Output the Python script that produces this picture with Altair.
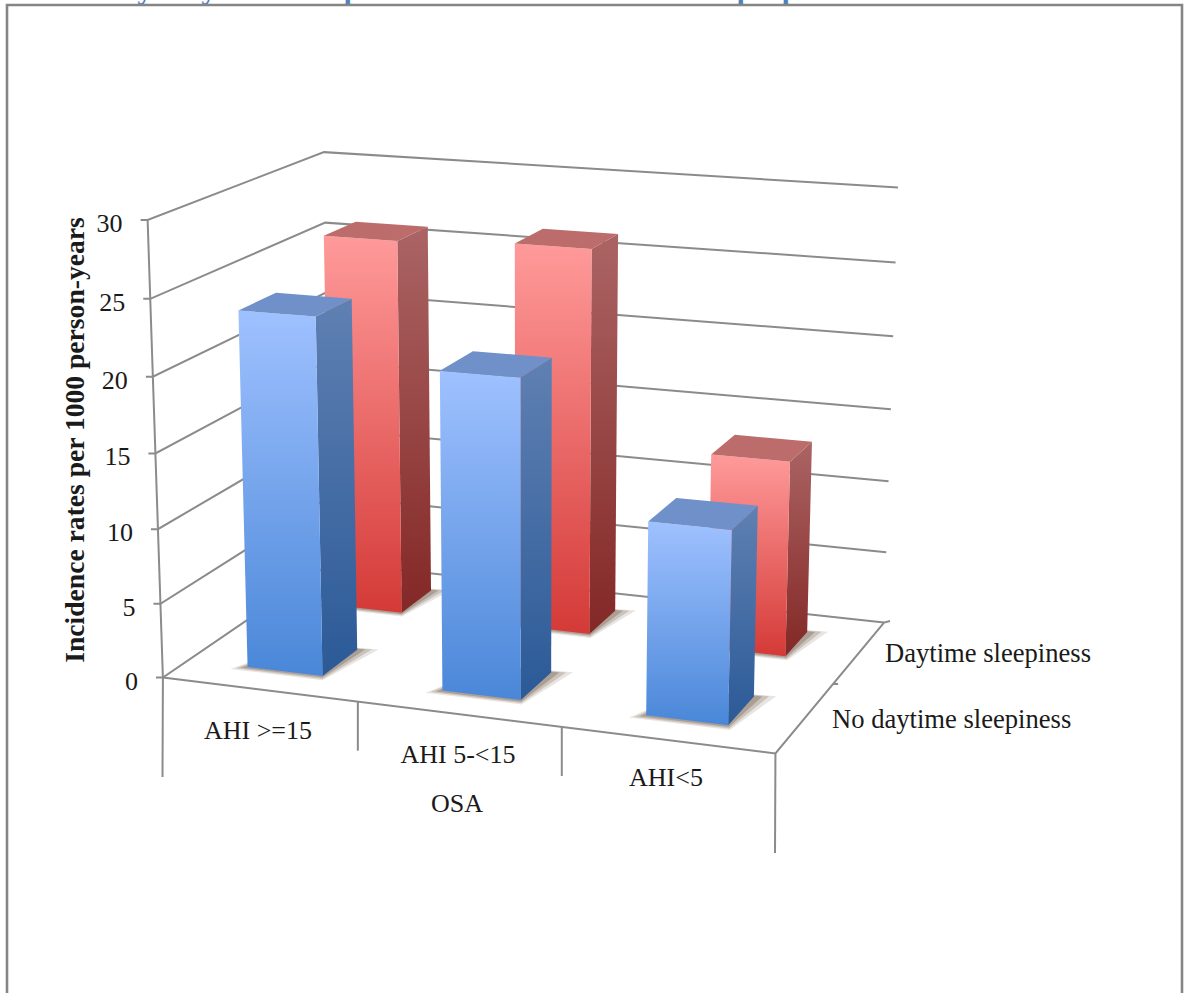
import altair as alt
import numpy as np
import pandas as pd

# Chart content
categories = ["AHI >=15", "AHI 5-<15", "AHI<5"]
series_names = ["No daytime sleepiness", "Daytime sleepiness"]
no_sleepiness = [23.8, 21.0, 12.6]
sleepiness = [26.0, 26.4, 13.3]
value_ticks = [0, 5, 10, 15, 20, 25, 30]
axis_title = "Incidence rates per 1000 person-years"
category_title = "OSA"

W, H = 1184, 993

# Camera calibration: (category, depth, value) -> page position
world_pts = [(0, 0, 0), (0, 0, 15), (0, 0, 30), (1, 0, 0), (2, 0, 0), (3, 0, 0),
             (0, 1, 0), (0, 1, 25), (0, 1, 30), (3, 1, 0), (3, 1, 5), (3, 1, 10),
             (3, 1, 15), (3, 1, 20), (3, 1, 25), (3, 1, 30)]
page_pts = [(163, 677), (156, 452), (148, 220), (357, 703), (562, 728), (775, 753),
            (332, 563), (325, 223), (323, 152), (883, 622), (887, 552), (889, 481),
            (891, 409), (893, 336), (896, 263), (898, 188)]


def fit_camera(world, page):
    rows = []
    for (a, b, c), (u, v) in zip(world, page):
        w = [a, b, c / 30, 1]
        rows.append(w + [0, 0, 0, 0] + [-u * t for t in w])
        rows.append([0, 0, 0, 0] + w + [-v * t for t in w])
    return np.linalg.svd(np.array(rows, float))[2][-1].reshape(3, 4)


CAM = fit_camera(world_pts, page_pts)


def project(cat, depth, value):
    p = CAM @ np.array([cat, depth, value / 30, 1.0])
    return float(p[0] / p[2]), float(p[1] / p[2])


x_scale = alt.Scale(domain=[0, W], nice=False, zero=False)
y_scale = alt.Scale(domain=[H, 0], nice=False, zero=False)
X = alt.X("x:Q", scale=x_scale, axis=None)
Y = alt.Y("y:Q", scale=y_scale, axis=None)


def polygon(points, fill, opacity=1.0):
    df = pd.DataFrame([{"x": a, "y": b, "i": k} for k, (a, b) in enumerate(points + points[:1])])
    return alt.Chart(df).mark_line(fill=fill, strokeWidth=0, strokeOpacity=0, opacity=opacity, interpolate="linear").encode(
        x=X, y=Y, order=alt.Order("i:Q"))


def polyline(points, color="#8b8b8b", width=2.0):
    df = pd.DataFrame([{"x": a, "y": b, "i": k} for k, (a, b) in enumerate(points)])
    return alt.Chart(df).mark_line(stroke=color, strokeWidth=width, interpolate="linear").encode(
        x=X, y=Y, order=alt.Order("i:Q"))


def label(text, x, y, size=26, align="center", weight="normal", angle=0, color="#1a1a1a"):
    df = pd.DataFrame([{"x": x, "y": y, "t": text}])
    return alt.Chart(df).mark_text(font="Liberation Serif", fontSize=size, align=align, baseline="middle",
                                   fontWeight=weight, angle=angle, color=color).encode(x=X, y=Y, text="t:N")


def vgrad(top, bottom):
    return alt.Gradient(gradient="linear", x1=0, y1=0, x2=0, y2=1,
                        stops=[alt.GradientStop(color=top, offset=0), alt.GradientStop(color=bottom, offset=1)])


layers = []

# Clipped heading above the figure, then the frame over it
for glyph, gx in [("y", 145), ("y", 209), ("p", 352), ("p", 745), ("p", 790)]:
    layers.append(label(glyph, gx, -10, size=30, weight="bold", color="#4f81bd"))
layers.append(polyline([(7, H), (7, 5), (1182, 5), (1182, H)], color="#858585", width=2.6))

# Walls and floor
for v in value_ticks:
    fx, fy = project(0, 0, v)
    layers.append(polyline([(fx - 7, fy), (fx, fy), project(0, 1, v), project(3, 1, v)]))
    layers.append(label(str(v), fx - 25, fy + 4, align="right"))
layers.append(polyline([project(0, 0, 30), project(0, 0, 0), (162.5, 777)]))
layers.append(polyline([project(0, 0, 0), project(3, 0, 0), project(3, 1, 0), (890, 621)]))
layers.append(polyline([project(3, 0, 0), (775, 853)]))
for c in (1, 2):
    cx, cy = project(c, 0, 0)
    layers.append(polyline([(cx, cy), (cx, cy + 49)]))
mx, my = project(3, 0.5, 0)
layers.append(polyline([(mx, my), (mx + 5, my)]))

# Bar footprint inside each category cell and each depth slot
FOOTPRINT = {
    "front": dict(x=(0.31, 0.70), depth=(0.14, 0.35)),
    "back": dict(x=(0.29, 0.68), depth=(0.66, 0.86)),
}
PALETTE = {
    "front": dict(face=("#9fc1ff", "#4a87d8"), side=("#5f80b2", "#2b5a97"), top="#6f90c8"),
    "back": dict(face=("#ff9a9a", "#d43a37"), side=("#ab6464", "#832826"), top="#bd6c6c"),
}


def bar_layers(slot, values):
    d0, d1 = FOOTPRINT[slot]["depth"]
    bx0, bx1 = FOOTPRINT[slot]["x"]
    colors = PALETTE[slot]
    out = []
    for c, v in enumerate(values):
        x0, x1 = c + bx0, c + bx1
        # Soft contact shadow on the floor
        for grow, alpha in [(0.08, 0.16), (0.055, 0.24), (0.03, 0.34)]:
            ring = [project(x0 - grow * 0.8, d0 - grow * 0.35, 0), project(x1 + grow * 0.3, d0 - grow * 0.35, 0),
                    project(x1 + grow * 1.2, d1 + grow * 0.25, 0), project(x0 + 0.1, d1, 0)]
            out.append(polygon(ring, "#6e5a46", alpha))
        out.append(polygon([project(x1, d0, v), project(x1, d1, v), project(x1, d1, 0), project(x1, d0, 0)],
                           vgrad(*colors["side"])))
        out.append(polygon([project(x0, d0, v), project(x1, d0, v), project(x1, d0, 0), project(x0, d0, 0)],
                           vgrad(*colors["face"])))
        out.append(polygon([project(x0, d0, v), project(x1, d0, v), project(x1, d1, v), project(x0, d1, v)],
                           colors["top"]))
    return out


layers += bar_layers("back", sleepiness)
layers += bar_layers("front", no_sleepiness)

# Category, series and axis titles
for text, cx, cy in zip(categories, (258, 458, 666), (731, 755, 778)):
    layers.append(label(text, cx, cy))
layers.append(label(category_title, 457, 804))
layers.append(label(series_names[1], 885, 654, size=26.6, align="left"))
layers.append(label(series_names[0], 832, 720, size=26.6, align="left"))
layers.append(label(axis_title, 76, 440, size=27.6, weight="bold", angle=270))

chart = alt.layer(*layers).properties(
    width=W, height=H, padding=0, autosize=alt.AutoSizeParams(type="none"),
    background="white",
).configure_view(stroke=None)

chart.save("out.html", embed_options={"renderer": "svg", "actions": False})
